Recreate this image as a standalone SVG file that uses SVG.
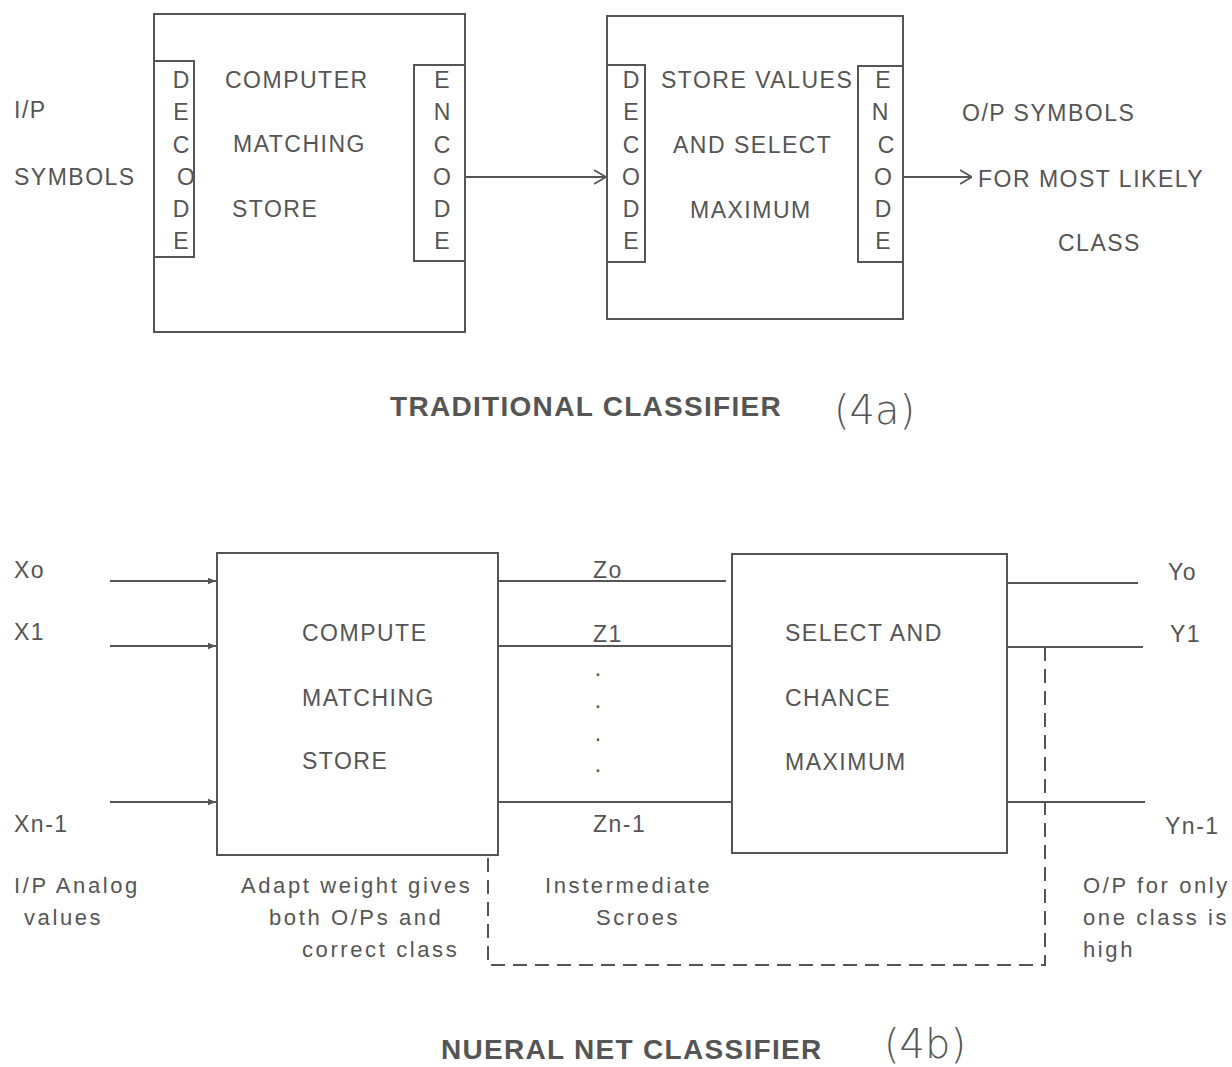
<svg xmlns="http://www.w3.org/2000/svg" width="1232" height="1067" viewBox="0 0 1232 1067">
<defs>
<style>
.t{font-family:"Liberation Sans",Arial,sans-serif;font-size:23px;fill:#555;letter-spacing:1.5px}
.s{font-family:"Liberation Sans",Arial,sans-serif;font-size:22px;fill:#555;letter-spacing:2.6px}
.l{font-family:"Liberation Sans",Arial,sans-serif;font-size:23px;fill:#555;text-anchor:middle}
.h{font-family:"Liberation Sans",Arial,sans-serif;font-size:28px;font-weight:bold;fill:#555;letter-spacing:1.3px}
.w{font-family:"DejaVu Sans",sans-serif;font-size:40px;font-weight:200;fill:#555}
.b{fill:none;stroke:#555;stroke-width:2}
.ln{fill:none;stroke:#555;stroke-width:2}
.d{fill:none;stroke:#555;stroke-width:2;stroke-dasharray:14 8}
</style>
<marker id="fa" viewBox="0 0 10 10" refX="10" refY="5" markerWidth="8" markerHeight="8" orient="auto" markerUnits="userSpaceOnUse">
<path d="M0,1 L10,5 L0,9 z" fill="#555"/>
</marker>
<marker id="oa" viewBox="0 0 12 16" refX="12" refY="8" markerWidth="12" markerHeight="16" orient="auto" markerUnits="userSpaceOnUse">
<path d="M0,1 L12,8 L0,15" fill="none" stroke="#555" stroke-width="1.8"/>
</marker>
</defs>
<rect width="1232" height="1067" fill="#fff"/>

<g id="box1">
<rect class="b" x="154" y="14" width="311" height="318"/>
<rect class="b" x="154" y="61" width="40" height="196"/>
<rect class="b" x="414" y="65" width="51" height="196"/>
<text class="l" x="181" y="88">D</text><text class="l" x="181" y="120">E</text><text class="l" x="181" y="153">C</text><text class="l" x="186" y="185">O</text><text class="l" x="181" y="217">D</text><text class="l" x="181" y="249">E</text>
<text class="l" x="442" y="88">E</text><text class="l" x="442" y="120">N</text><text class="l" x="442" y="153">C</text><text class="l" x="442" y="185">O</text><text class="l" x="442" y="217">D</text><text class="l" x="442" y="249">E</text>
<text class="t" x="225" y="88">COMPUTER</text>
<text class="t" x="233" y="152">MATCHING</text>
<text class="t" x="232" y="217">STORE</text>
</g>

<g id="box2">
<rect class="b" x="607" y="16" width="296" height="303"/>
<rect class="b" x="607" y="65" width="38" height="197"/>
<rect class="b" x="858" y="66" width="45" height="196"/>
<text class="l" x="631" y="88">D</text><text class="l" x="631" y="120">E</text><text class="l" x="631" y="153">C</text><text class="l" x="631" y="185">O</text><text class="l" x="631" y="217">D</text><text class="l" x="631" y="249">E</text>
<text class="l" x="883" y="88">E</text><text class="l" x="880" y="120">N</text><text class="l" x="886" y="153">C</text><text class="l" x="883" y="185">O</text><text class="l" x="883" y="217">D</text><text class="l" x="883" y="249">E</text>
<text class="t" x="661" y="88">STORE VALUES</text>
<text class="t" x="673" y="153">AND SELECT</text>
<text class="t" x="690" y="218">MAXIMUM</text>
</g>

<g id="labels-a">
<text class="t" x="14" y="118">I/P</text>
<text class="t" x="14" y="185">SYMBOLS</text>
<text class="t" x="962" y="121">O/P SYMBOLS</text>
<text class="t" x="978" y="187">FOR MOST LIKELY</text>
<text class="t" x="1058" y="251">CLASS</text>
<text class="h" x="390" y="416">TRADITIONAL CLASSIFIER</text>
<text class="w" x="834" y="424">(4a)</text>
</g>

<g id="box3">
<rect class="b" x="217" y="553" width="281" height="302"/>
<text class="t" x="302" y="641">COMPUTE</text>
<text class="t" x="302" y="706">MATCHING</text>
<text class="t" x="302" y="769">STORE</text>
</g>

<g id="box4">
<rect class="b" x="732" y="554" width="275" height="299"/>
<text class="t" x="785" y="641">SELECT AND</text>
<text class="t" x="785" y="706">CHANCE</text>
<text class="t" x="785" y="770">MAXIMUM</text>
</g>

<g id="connectors">
<line class="ln" x1="465" y1="177" x2="606" y2="177" marker-end="url(#oa)"/>
<line class="ln" x1="903" y1="177" x2="972" y2="177" marker-end="url(#oa)"/>
<line class="ln" x1="110" y1="581" x2="216" y2="581" marker-end="url(#fa)"/>
<line class="ln" x1="110" y1="646" x2="216" y2="646" marker-end="url(#fa)"/>
<line class="ln" x1="110" y1="802" x2="216" y2="802" marker-end="url(#fa)"/>
<line class="ln" x1="498" y1="581" x2="726" y2="581"/>
<line class="ln" x1="498" y1="646" x2="732" y2="646"/>
<line class="ln" x1="498" y1="802" x2="732" y2="802"/>
<line class="ln" x1="1007" y1="583" x2="1138" y2="583"/>
<line class="ln" x1="1007" y1="647" x2="1143" y2="647"/>
<line class="ln" x1="1007" y1="802" x2="1145" y2="802"/>
<polyline class="d" points="1045,647 1045,965 488,965 488,855"/>
</g>

<g id="labels-b">
<text class="t" x="14" y="578">Xo</text>
<text class="t" x="14" y="640">X1</text>
<text class="t" x="14" y="832">Xn-1</text>
<text class="t" x="593" y="578">Zo</text>
<text class="t" x="593" y="642">Z1</text>
<text class="l" x="598" y="676">.</text>
<text class="l" x="598" y="708">.</text>
<text class="l" x="598" y="741">.</text>
<text class="l" x="598" y="772">.</text>
<text class="t" x="593" y="832">Zn-1</text>
<text class="t" x="1168" y="580">Yo</text>
<text class="t" x="1170" y="642">Y1</text>
<text class="t" x="1165" y="834">Yn-1</text>
<text class="s" x="14" y="893">I/P Analog</text>
<text class="s" x="24" y="925">values</text>
<text class="s" x="241" y="893">Adapt weight gives</text>
<text class="s" x="269" y="925">both O/Ps and</text>
<text class="s" x="302" y="957">correct class</text>
<text class="s" x="545" y="893">Instermediate</text>
<text class="s" x="596" y="925">Scroes</text>
<text class="s" x="1083" y="893">O/P for only</text>
<text class="s" x="1083" y="925">one class is</text>
<text class="s" x="1083" y="957">high</text>
<text class="h" x="441" y="1059">NUERAL NET CLASSIFIER</text>
<text class="w" x="884" y="1058">(4b)</text>
</g>
</svg>
